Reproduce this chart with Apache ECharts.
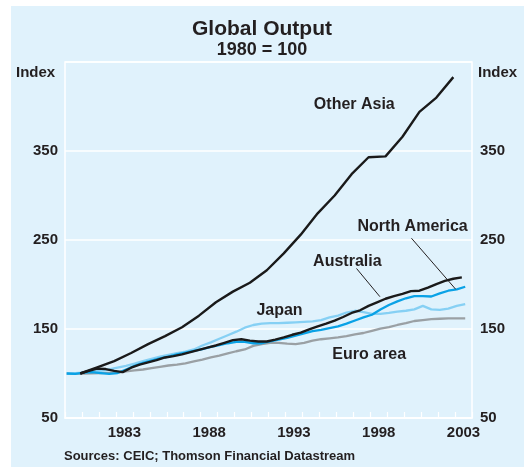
<!DOCTYPE html>
<html>
<head>
<meta charset="utf-8">
<script src="https://cdn.jsdelivr.net/npm/echarts@6/dist/echarts.min.js"></script>
<style>
  body { margin: 0; background: #fff; }
  #bg { position: absolute; left: 11px; top: 6px; width: 513px; height: 461px; background: #e0f2fc; }
  #chart { position: absolute; left: 0; top: 0; width: 524px; height: 467px; }
</style>
</head>
<body>
<div id="bg"></div>
<div id="chart"></div>
<script>
// half-yearly observations, 1980 to mid 2003
var halfYears = [];
for (var y = 1980; y <= 2003; y++) { halfYears.push(y + 0.1, y + 0.6); }
// Australia starts late 1980
var ausTimes = [];
for (var y = 1980; y <= 2003; y++) {
  if (y > 1980) ausTimes.push(y + 0.4);
  if (y < 2003) ausTimes.push(y + 0.9);
}
// Other Asia annual
var asiaYears = [];
for (var y = 1980; y <= 2002; y++) { asiaYears.push(y + 0.9); }

var otherAsia = [100, 107, 114, 123, 133, 142, 152, 165, 180, 192, 202, 216, 235, 256, 280, 300, 324, 343, 344, 366, 394, 410, 433];

var japan = [100, 100.5, 101, 102, 103, 104.5, 106.5, 108.5, 111, 114, 116.5, 119, 121, 123, 124.5, 127,
  131.5, 135, 139, 143, 147, 151.5, 154.5, 156, 156.5, 156.5, 157, 157.5, 158, 158.5, 160, 163,
  165, 168.5, 170.5, 169, 167, 167, 168, 169.5, 170.5, 172, 176, 172, 171.5, 173, 176, 178];

var northAmerica = [100, 99.5, 101, 101.5, 100.5, 99.5, 100.5, 104.5, 108.5, 112, 114.5, 117, 119, 121.5, 123.5, 125.5,
  127.5, 130, 132, 134, 135.5, 135.5, 134, 134, 136, 138, 140, 142.5, 145, 147.5, 149, 151,
  153, 156, 159.5, 163, 166, 172, 177, 181, 184.5, 187, 187, 186.5, 190, 193, 194.5, 197.5];

var euroArea = [100, 100, 100, 100.2, 100.5, 100.8, 101, 102.5, 103.5, 104.5, 106, 107.5, 109, 110, 111.5, 113.5,
  115.5, 118, 120, 122.5, 125, 127, 131, 133, 134.5, 134.5, 133.5, 133, 134.5, 137, 138.5, 139.5,
  140.5, 142, 144, 145.5, 148, 150.5, 152, 154.5, 156.5, 159, 160, 161, 161.5, 162, 162, 162];

var australia = [100, 103, 105.5, 105, 103, 101.5, 106.5, 110, 112.5, 115, 118, 119.5, 121.5, 124, 126.5, 129,
  131.5, 134.5, 137.5, 138.5, 137, 136, 136, 138, 140.5, 143.5, 146, 149.5, 153, 156, 159.5, 163.5,
  168, 171, 176, 180, 184, 187, 189.5, 192.5, 193, 196.5, 200.5, 204, 206.5, 208];

var yearLabels = [1983, 1988, 1993, 1998, 2003];

function pairs(xs, vs) {
  return vs.map(function (v, i) { return [xs[i], v]; });
}

var chart = echarts.init(document.getElementById('chart'));
var font = '"Liberation Sans", Arial, sans-serif';
var ink = '#231f20';
var labelStyle = { color: ink, fontSize: 15, fontWeight: 'bold', fontFamily: font };

var yAxisBase = {
  type: 'value', min: 50, max: 450, interval: 100,
  axisLine: { show: false }, axisTick: { show: false },
  splitLine: { show: true, lineStyle: { color: '#fff', width: 1.5 } },
  axisLabel: Object.assign({ margin: 7, formatter: function (v) { return v === 450 ? '' : v; } }, labelStyle)
};

var option = {
  backgroundColor: 'transparent',
  animation: false,
  title: {
    text: 'Global Output', subtext: '1980 = 100', left: 'center', top: 14, itemGap: 1,
    textStyle: { color: ink, fontSize: 21, fontWeight: 'bold', fontFamily: font },
    subtextStyle: { color: ink, fontSize: 18, fontWeight: 'bold', fontFamily: font }
  },
  grid: { left: 65, right: 52, top: 62, bottom: 49, show: true, borderColor: '#fff', borderWidth: 1.5, backgroundColor: 'transparent' },
  xAxis: [{
    type: 'value', min: 1980, max: 2004, interval: 1,
    axisLine: { show: true, lineStyle: { color: '#fff', width: 1.5 } },
    axisTick: { show: true, inside: true, length: 6, lineStyle: { color: '#fff', width: 1.2 } },
    axisLabel: { show: false }, splitLine: { show: false }
  }, {
    type: 'value', min: 1980, max: 2004, interval: 0.5, position: 'bottom',
    axisLine: { show: false }, axisTick: { show: false }, splitLine: { show: false },
    axisLabel: Object.assign({
      margin: 7, showMinLabel: true, showMaxLabel: true,
      formatter: function (v) {
        var yr = Math.floor(v);
        return (v - yr === 0.5 && yearLabels.indexOf(yr) >= 0) ? String(yr) : '';
      }
    }, labelStyle)
  }],
  yAxis: [Object.assign({ position: 'left' }, yAxisBase),
          Object.assign({ position: 'right' }, yAxisBase, { splitLine: { show: false },
            axisLabel: Object.assign({}, yAxisBase.axisLabel, { margin: 8 }) })],
  series: [
    { name: 'Euro area', type: 'line', showSymbol: false, data: pairs(halfYears, euroArea),
      lineStyle: { color: '#9aa0a4', width: 2.3 } },
    { name: 'Japan', type: 'line', showSymbol: false, data: pairs(halfYears, japan),
      lineStyle: { color: '#86d0f4', width: 2.3 } },
    { name: 'North America', type: 'line', showSymbol: false, data: pairs(halfYears, northAmerica),
      lineStyle: { color: '#0aa2e6', width: 2.3 },
      markLine: { silent: true, symbol: ['none', 'arrow'], symbolSize: [0, 9], label: { show: false },
        lineStyle: { color: ink, width: 1, type: 'solid' },
        data: [[{ coord: [2000.43, 252] }, { coord: [2003.04, 194.6] }]] } },
    { name: 'Australia', type: 'line', showSymbol: false, data: pairs(ausTimes, australia),
      lineStyle: { color: '#1a1a1a', width: 2.4 },
      markLine: { silent: true, symbol: ['none', 'arrow'], symbolSize: [0, 9], label: { show: false },
        lineStyle: { color: ink, width: 1, type: 'solid' },
        data: [[{ coord: [1997.19, 218] }, { coord: [1998.57, 186.3] }]] } },
    { name: 'Other Asia', type: 'line', showSymbol: false, data: pairs(asiaYears, otherAsia),
      lineStyle: { color: '#1a1a1a', width: 2.4 } }
  ]
};
chart.setOption(option);

// series name labels placed in data coordinates
var notes = [
  ['Other Asia', 1997.06, 402],
  ['North America', 2000.5, 265],
  ['Australia', 1996.65, 226],
  ['Japan', 1992.65, 170.2],
  ['Euro area', 1997.94, 120.8]
];
var graphics = notes.map(function (n) {
  var p = chart.convertToPixel({ gridIndex: 0 }, [n[1], n[2]]);
  return { type: 'text', x: p[0], y: p[1], style: { text: n[0], fill: ink, font: 'bold 16px ' + font, align: 'center', verticalAlign: 'middle' } };
});
graphics.push(
  { type: 'text', x: 16, y: 73, style: { text: 'Index', fill: ink, font: 'bold 15px ' + font, verticalAlign: 'middle' } },
  { type: 'text', x: 478, y: 73, style: { text: 'Index', fill: ink, font: 'bold 15px ' + font, verticalAlign: 'middle' } },
  { type: 'text', x: 64, y: 456, style: { text: 'Sources: CEIC; Thomson Financial Datastream', fill: ink, font: 'bold 13px ' + font, verticalAlign: 'middle' } }
);
chart.setOption({ graphic: graphics });
</script>
</body>
</html>
